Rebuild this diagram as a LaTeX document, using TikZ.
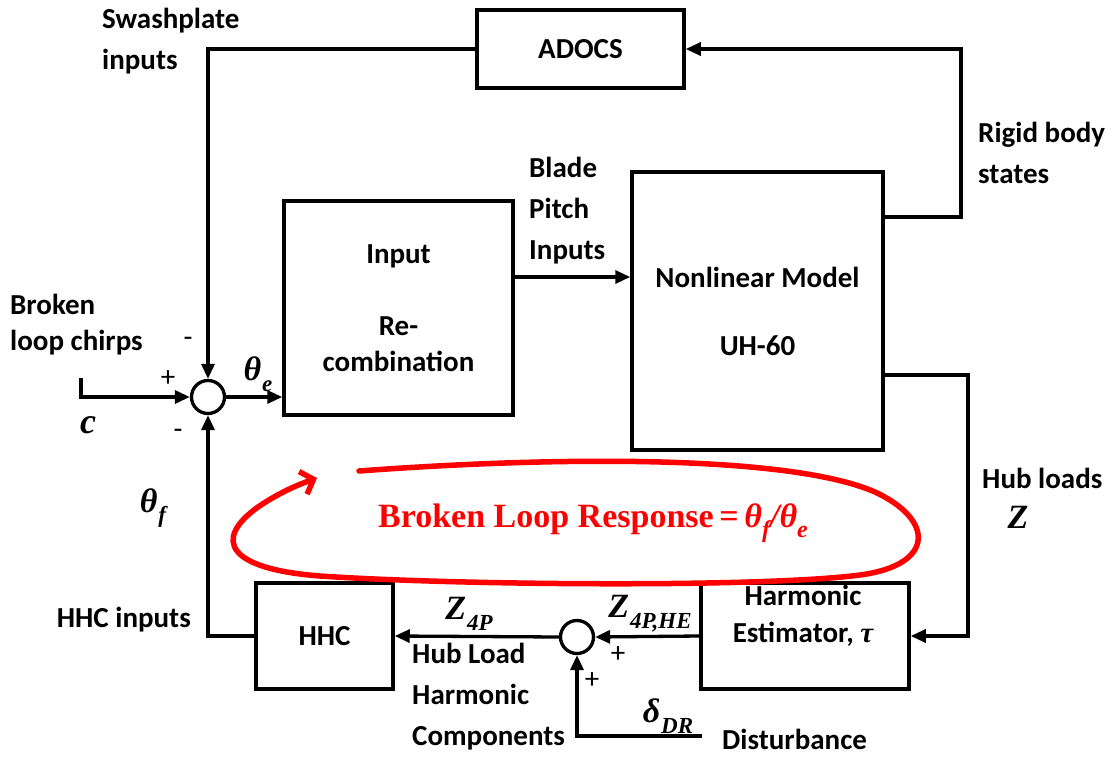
\documentclass[tikz,border=0pt]{standalone}
\usepackage{fontspec}
\setmainfont{Carlito}
\newfontfamily\mfont{Liberation Serif}
\usetikzlibrary{arrows.meta}
\newcommand\mv[2]{{\mfont\bfseries\itshape #1\kern1pt\raisebox{-0.32em}{\fontsize{23}{23}\selectfont #2}}}
\begin{document}
\begin{tikzpicture}[x=1pt,y=-1pt,
  wire/.style={line width=3.3pt},
  arr/.style={wire,-{Triangle[length=15pt,width=13pt]}},
  blk/.style={draw,line width=3.5pt,inner sep=0pt,align=center,font=\fontsize{29}{36}\selectfont\bfseries},
  lbl/.style={inner sep=0pt,font=\fontsize{29}{41}\selectfont\bfseries},
  sumj/.style={draw,circle,line width=3.3pt,minimum size=33pt,inner sep=0pt},
  sgn/.style={inner sep=0pt,font=\fontsize{29}{29}\selectfont},
  mth/.style={inner sep=0pt,font=\fontsize{34}{34}\selectfont},
  loop/.style={red,line width=5.5pt,line cap=round,-{Straight Barb[length=11pt,width=24pt]}},
]
\useasboundingbox (0,0) rectangle (1114,757);
% blocks
\node[blk,minimum width=207pt,minimum height=78pt] (adocs) at (580.5,49) {ADOCS};
\node[blk,minimum width=229pt,minimum height=214pt] (inp) at (398.5,308) {Input\\[36pt]Re-\\combination};
\node[blk,minimum width=251pt,minimum height=278pt,font=\fontsize{29}{34}\selectfont\bfseries] (nl) at (757.5,311) {Nonlinear Model\\[34pt]UH-60};
\node[blk,minimum width=208pt,minimum height=106pt] (he) at (805,636) {};
\node[lbl,align=center,font=\fontsize{29}{37}\selectfont\bfseries] (het) at (803,616) {Harmonic\\Estimator, {\mfont\bfseries\itshape τ}};
\node[blk,minimum width=137pt,minimum height=106pt] (hhc) at (324.5,636) {HHC};
\node[sumj] (sum1) at (208,397) {};
\node[sumj] (sum2) at (577,637) {};
% wires
\draw[arr] (adocs.west) -| (sum1.north);
\coordinate (rbc) at (961,217);
\draw[arr] (nl.east |- rbc) -- (rbc) |- (adocs.east);
\coordinate (hlc) at (968,375);
\draw[arr] (nl.east |- hlc) -- (hlc) |- (he.east);
\draw[arr] (he.west) -- (sum2.east);
\draw[arr] (sum2.west) -- (hhc.east);
\draw[arr] (hhc.west) -| (sum1.south);
\coordinate (dsc) at (702,736);
\draw[arr] (dsc) -| (sum2.south);
\coordinate (cc) at (81,378);
\draw[arr] (cc) |- (sum1.west);
\draw[arr] (sum1.east) -- (inp.west |- sum1.east);
\coordinate (bpc) at (517,277);
\draw[arr] (inp.east |- bpc) -- (nl.west |- bpc);
% labels
\node[lbl,align=left,anchor=west] (swl) at (102,41.5) {Swashplate\\inputs};
\node[lbl,align=left,anchor=west] (rbl) at (978,153) {Rigid body\\states};
\node[lbl,align=left,anchor=west] (bpl) at (529,211) {Blade\\Pitch\\Inputs};
\node[lbl,align=left,anchor=west,font=\fontsize{29}{36}\selectfont\bfseries] (blc) at (10,325) {Broken\\loop chirps};
\node[lbl,anchor=west] (hll) at (982,478) {Hub loads};
\node[mth] (zl) at (1018,517) {{\mfont\bfseries\itshape Z}};
\node[lbl,anchor=east] (hhcl) at (191,620) {HHC inputs};
\node[lbl,align=left,anchor=west] (hlh) at (412,697) {Hub Load\\Harmonic\\Components};
\node[lbl,anchor=west] (distl) at (722,739) {Disturbance};
% math labels
\node[mth,font=\fontsize{36}{36}\selectfont] (cl) at (88,425) {{\mfont\bfseries\itshape c}};
\node[mth] (tel) at (258,374) {\mv{θ}{e}};
\node[mth] (tfl) at (153,508) {\mv{θ}{f}};
\node[mth] (z4l) at (469,614) {\mv{Z}{4P}};
\node[mth] (z4hel) at (650,614) {\mv{Z}{4P,HE}};
\node[mth] (ddrl) at (668,716) {\mv{δ}{DR}};
% signs
\node[sgn] (p1) at (168,379) {+};
\node[sgn] (m1) at (188,342) {-};
\node[sgn] (m2) at (178,434) {-};
\node[sgn] (p2) at (618,655) {+};
\node[sgn] (p3) at (592,681) {+};
% broken loop annotation
\node[inner sep=0pt,text=red,font=\fontsize{34}{34}\selectfont\mfont\bfseries] (blr) at (593,523)
  {Broken Loop Response\,=\,{\itshape θ\raisebox{-0.28em}{\fontsize{24}{24}\selectfont f}/θ\raisebox{-0.28em}{\fontsize{24}{24}\selectfont e}}};
\draw[loop] (359,471) .. controls (560,456) and (790,455) .. (875,492)
  .. controls (935,520) and (935,565) .. (860,575)
  .. controls (760,588) and (450,585) .. (320,576)
  .. controls (228,569) and (212,540) .. (258,507)
  .. controls (280,492) and (300,484) .. (317,478);
\end{tikzpicture}
\end{document}
